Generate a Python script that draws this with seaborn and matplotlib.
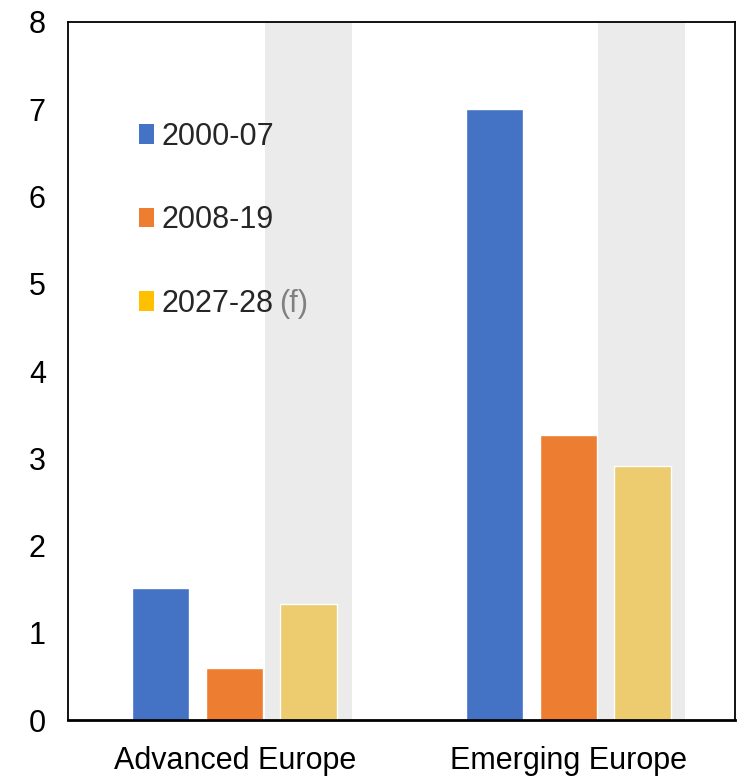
import matplotlib
matplotlib.use("Agg")
import matplotlib.pyplot as plt
import seaborn as sns
import pandas as pd
import numpy as np
from matplotlib.patches import Patch

regions = ["Advanced Europe", "Emerging Europe"]
periods = ["2000-07", "2008-19", "2027-28"]
v_2000_07 = [1.51, 7.0]
v_2008_19 = [0.60, 3.27]
v_2027_28 = [1.33, 2.91]
yticks = [0, 1, 2, 3, 4, 5, 6, 7, 8]
forecast_note = "(f)"

bar_colors = ["#4472C4", "#ED7D31", "#ECCC6E"]
legend_colors = ["#4472C4", "#ED7D31", "#FFC000"]

df = pd.DataFrame({
    "region": regions * 3,
    "period": [periods[0]] * 2 + [periods[1]] * 2 + [periods[2]] * 2,
    "value": v_2000_07 + v_2008_19 + v_2027_28,
})

sns.set_theme(style="white")
plt.rcParams["font.family"] = ["Liberation Sans", "DejaVu Sans"]

fig = plt.figure(figsize=(7.43, 7.80), dpi=100)
ax = fig.add_axes([0.0915, 0.0769, 0.8977, 0.8949])

# shaded forecast band behind third bar of each group
ax.bar(np.arange(len(regions)) + 0.221, max(yticks), width=0.261,
       color="#EBEBEB", zorder=0, linewidth=0)

sns.barplot(data=df, x="region", y="value", hue="period", order=regions,
            hue_order=periods, palette=bar_colors, width=0.667, gap=0.23,
            saturation=1, legend=False, ax=ax, zorder=2)

ax.set_xlim(-0.5, 1.5)
ax.set_ylim(0, 8)
ax.set_yticks(yticks)
ax.set_yticklabels([str(t) for t in yticks])
ax.set_xlabel("")
ax.set_ylabel("")
ax.tick_params(axis="both", length=0, labelsize=22, colors="black")
ax.tick_params(axis="y", pad=16)
ax.tick_params(axis="x", pad=19)

for side in ["left", "top", "right"]:
    ax.spines[side].set_visible(True)
    ax.spines[side].set_color("black")
    ax.spines[side].set_linewidth(1.3)
ax.spines["bottom"].set_color("black")
ax.spines["bottom"].set_linewidth(2)

handles = [Patch(facecolor=c, edgecolor="none") for c in legend_colors]
leg = ax.legend(handles, periods, loc="upper left",
                bbox_to_anchor=(0.107, 0.857), frameon=False, fontsize=22,
                handlelength=0.49, handleheight=0.6, handletextpad=0.25,
                labelspacing=1.75, borderaxespad=0, borderpad=0)

fig.canvas.draw()
last_text = leg.get_texts()[-1]
ax.annotate(forecast_note, xy=(1, 0), xycoords=last_text, xytext=(4, 0),
            textcoords="offset points", fontsize=22, color="#808080",
            va="bottom", ha="left")

fig.savefig("out.png", dpi=100)
